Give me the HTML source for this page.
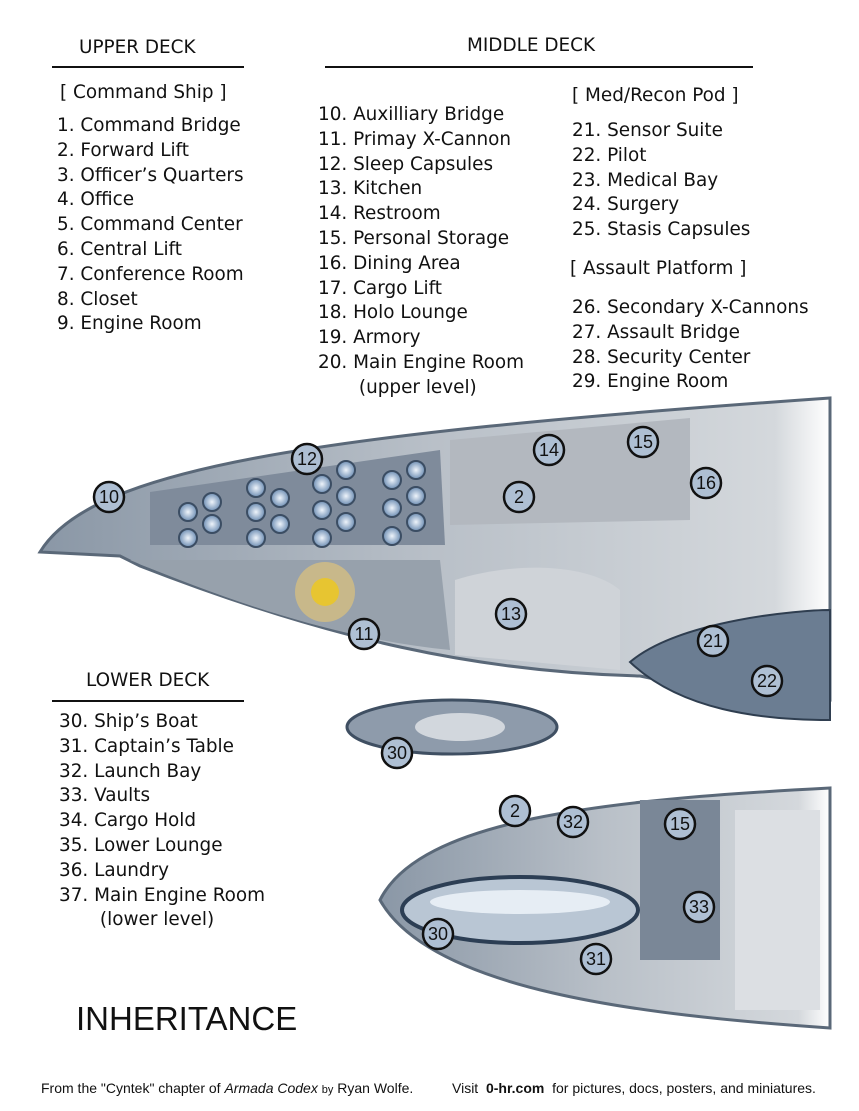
<!DOCTYPE html>
<html><head><meta charset="utf-8"><style>
body{margin:0;background:#fff;width:859px;height:1111px;overflow:hidden;position:relative;font-family:"DejaVu Sans","Liberation Sans",sans-serif;color:#111}
.t{position:absolute;font-size:18.4px;white-space:nowrap;line-height:24.8px}
.h{position:absolute;font-size:18.4px}
.rule{position:absolute;height:2px;background:#111}
svg{position:absolute;left:0;top:0}
</style></head><body>
<svg width="859" height="1111">
<defs>
<linearGradient id="g1" x1="0" y1="0" x2="1" y2="0"><stop offset="0" stop-color="#8a97a6"/><stop offset="0.5" stop-color="#b9c0c8"/><stop offset="0.93" stop-color="#d4d8dc"/><stop offset="1" stop-color="#fff"/></linearGradient>
<radialGradient id="pod"><stop offset="0" stop-color="#eef4fb"/><stop offset="1" stop-color="#6f8fb4"/></radialGradient>
</defs>
<path d="M40,552 C90,470 300,435 830,398 L830,700 L700,690 C660,680 650,678 640,676 C480,672 330,640 140,566 L120,556 Z" fill="url(#g1)" stroke="#5a6878" stroke-width="3"/>
<path d="M150,492 L440,450 L445,545 L150,545 Z" fill="#7f8b9b"/>
<path d="M130,560 L440,560 L450,650 C350,640 250,610 130,560 Z" fill="#97a1ac"/>
<path d="M450,440 L690,418 L690,520 L450,525 Z" fill="#b3b8bf"/>
<path d="M455,580 C520,560 590,565 620,590 L620,670 L455,655 Z" fill="#cfd3d8"/>
<circle cx="325" cy="592" r="30" fill="#c8b88a"/><circle cx="325" cy="592" r="14" fill="#e7c531"/>
<g fill="url(#pod)" stroke="#3b4d63" stroke-width="2">
<circle cx="188" cy="512" r="9"/><circle cx="212" cy="502" r="9"/><circle cx="212" cy="524" r="9"/><circle cx="188" cy="538" r="9"/>
<circle cx="256" cy="488" r="9"/><circle cx="256" cy="512" r="9"/><circle cx="256" cy="538" r="9"/><circle cx="280" cy="498" r="9"/><circle cx="280" cy="524" r="9"/>
<circle cx="322" cy="484" r="9"/><circle cx="322" cy="510" r="9"/><circle cx="322" cy="538" r="9"/><circle cx="346" cy="470" r="9"/><circle cx="346" cy="496" r="9"/><circle cx="346" cy="522" r="9"/>
<circle cx="392" cy="480" r="9"/><circle cx="392" cy="508" r="9"/><circle cx="392" cy="536" r="9"/><circle cx="416" cy="470" r="9"/><circle cx="416" cy="496" r="9"/><circle cx="416" cy="522" r="9"/>
</g>
<path d="M630,662 C680,620 800,610 830,610 L830,720 C760,720 680,710 630,662 Z" fill="#6b7d92" stroke="#2f3e50" stroke-width="2"/>
<ellipse cx="452" cy="727" rx="105" ry="27" fill="#8e9bab" stroke="#3f4f62" stroke-width="3"/>
<ellipse cx="460" cy="727" rx="45" ry="14" fill="#d2d7dd"/>
<path d="M380,900 C420,820 600,800 830,788 L830,1028 C640,1015 430,990 380,900 Z" fill="url(#g1)" stroke="#5a6878" stroke-width="3"/>
<path d="M640,800 L720,800 L720,960 L640,960 Z" fill="#7a8797"/>
<path d="M735,810 L820,810 L820,1010 L735,1010 Z" fill="#dcdfe3"/>
<ellipse cx="520" cy="910" rx="118" ry="33" fill="#b9c6d4" stroke="#2c3e54" stroke-width="4"/>
<ellipse cx="520" cy="902" rx="90" ry="12" fill="#e6edf4"/>
<g font-family="Liberation Sans, sans-serif" font-size="18" text-anchor="middle" fill="#111">
<g fill="#aebfd3" stroke="#111" stroke-width="2.5">
<circle cx="109" cy="497" r="15"/><circle cx="307" cy="459" r="15"/><circle cx="549" cy="450" r="15"/><circle cx="643" cy="442" r="15"/><circle cx="519" cy="497" r="15"/><circle cx="706" cy="483" r="15"/><circle cx="511" cy="614" r="15"/><circle cx="364" cy="634" r="15"/><circle cx="713" cy="641" r="15"/><circle cx="767" cy="681" r="15"/><circle cx="397" cy="753" r="15"/><circle cx="515" cy="811" r="15"/><circle cx="573" cy="822" r="15"/><circle cx="680" cy="824" r="15"/><circle cx="699" cy="907" r="15"/><circle cx="438" cy="934" r="15"/><circle cx="596" cy="959" r="15"/>
</g>
<text x="109" y="503">10</text><text x="307" y="465">12</text><text x="549" y="456">14</text><text x="643" y="448">15</text><text x="519" y="503">2</text><text x="706" y="489">16</text><text x="511" y="620">13</text><text x="364" y="640">11</text><text x="713" y="647">21</text><text x="767" y="687">22</text><text x="397" y="759">30</text><text x="515" y="817">2</text><text x="573" y="828">32</text><text x="680" y="830">15</text><text x="699" y="913">33</text><text x="438" y="940">30</text><text x="596" y="965">31</text>
</g>
</svg>
<div class="h" style="left:79px;top:37px">UPPER DECK</div>
<div class="rule" style="left:52px;top:66px;width:192px"></div>
<div class="h" style="left:467px;top:35px">MIDDLE DECK</div>
<div class="rule" style="left:325px;top:66px;width:428px"></div>
<div class="t" style="left:60px;top:81px">[ Command Ship ]</div>
<div class="t" style="left:57px;top:114px">1. Command Bridge<br>2. Forward Lift<br>3. Officer’s Quarters<br>4. Office<br>5. Command Center<br>6. Central Lift<br>7. Conference Room<br>8. Closet<br>9. Engine Room</div>
<div class="t" style="left:318px;top:103px">10. Auxilliary Bridge<br>11. Primay X-Cannon<br>12. Sleep Capsules<br>13. Kitchen<br>14. Restroom<br>15. Personal Storage<br>16. Dining Area<br>17. Cargo Lift<br>18. Holo Lounge<br>19. Armory<br>20. Main Engine Room<br>&nbsp;&nbsp;&nbsp;&nbsp;&nbsp;&nbsp;&nbsp;(upper level)</div>
<div class="t" style="left:572px;top:84px">[ Med/Recon Pod ]</div>
<div class="t" style="left:572px;top:119px">21. Sensor Suite<br>22. Pilot<br>23. Medical Bay<br>24. Surgery<br>25. Stasis Capsules</div>
<div class="t" style="left:570px;top:257px">[ Assault Platform ]</div>
<div class="t" style="left:572px;top:296px">26. Secondary X-Cannons<br>27. Assault Bridge<br>28. Security Center<br>29. Engine Room</div>
<div class="h" style="left:86px;top:670px">LOWER DECK</div>
<div class="rule" style="left:52px;top:700px;width:192px"></div>
<div class="t" style="left:59px;top:710px">30. Ship’s Boat<br>31. Captain’s Table<br>32. Launch Bay<br>33. Vaults<br>34. Cargo Hold<br>35. Lower Lounge<br>36. Laundry<br>37. Main Engine Room<br>&nbsp;&nbsp;&nbsp;&nbsp;&nbsp;&nbsp;&nbsp;(lower level)</div>
<div style="position:absolute;left:76px;top:1000px;font-size:33px;font-family:'Liberation Sans',sans-serif">INHERITANCE</div>
<div style="position:absolute;left:41px;top:1080px;font-size:14px;font-family:'Liberation Sans',sans-serif;white-space:nowrap">From the "Cyntek" chapter of <i>Armada Codex</i> <span style="font-size:11px">by</span> Ryan Wolfe.</div>
<div style="position:absolute;left:452px;top:1080px;font-size:14px;font-family:'Liberation Sans',sans-serif;white-space:nowrap">Visit &nbsp;<b>0-hr.com</b>&nbsp; for pictures, docs, posters, and miniatures.</div>
</body></html>
